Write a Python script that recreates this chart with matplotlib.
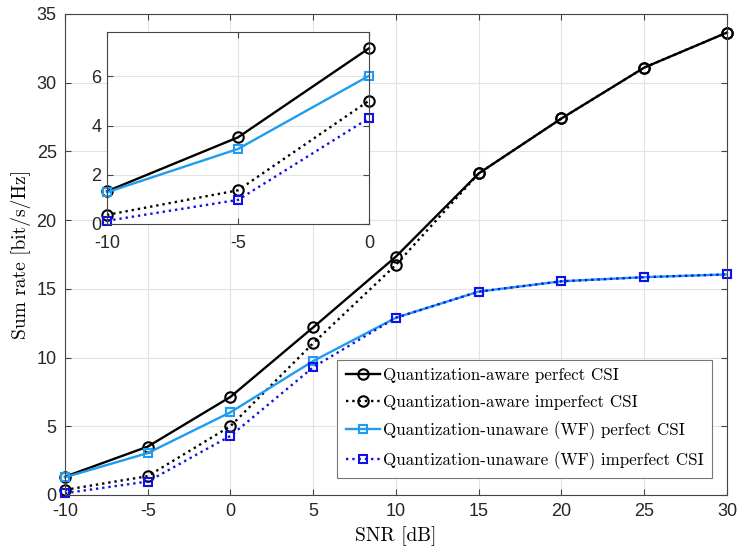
import matplotlib.pyplot as plt
import numpy as np

plt.rcParams['axes.unicode_minus'] = False

snr = [-10, -5, 0, 5, 10, 15, 20, 25, 30]
aware_perfect = [1.33, 3.52, 7.14, 12.2, 17.35, 23.4, 27.4, 31.1, 33.65]
aware_imperfect = [0.37, 1.37, 5.01, 11.05, 16.75, 23.4, 27.4, 31.1, 33.65]
wf_perfect = [1.29, 3.05, 6.02, 9.75, 12.9, 14.8, 15.55, 15.85, 16.05]
wf_imperfect = [0.13, 0.98, 4.3, 9.3, 12.9, 14.8, 15.55, 15.85, 16.05]

labels = ['Quantization-aware perfect CSI',
          'Quantization-aware imperfect CSI',
          'Quantization-unaware (WF) perfect CSI',
          'Quantization-unaware (WF) imperfect CSI']

light_blue = '#1f9cf0'
dark_blue = '#1010e8'
styles = [dict(color='k', ls='-', marker='o', ms=7.5),
          dict(color='k', ls=':', marker='o', ms=7.5),
          dict(color=light_blue, ls='-', marker='s', ms=6),
          dict(color=dark_blue, ls=':', marker='s', ms=6)]
series = [aware_perfect, aware_imperfect, wf_perfect, wf_imperfect]

tick_font = 'Liberation Sans'
tex_font = 'cmr10'

def style_axes(ax, size):
    ax.grid(True, color='#e3e3e3', lw=0.8)
    ax.set_axisbelow(True)
    ax.tick_params(direction='in', top=True, right=True, length=4,
                   color='#444444', labelsize=size, pad=6)
    for s in ax.spines.values():
        s.set_color('#444444')
        s.set_linewidth(0.8)
    for t in ax.get_xticklabels() + ax.get_yticklabels():
        t.set_fontfamily(tick_font)
        t.set_color('#262626')

fig = plt.figure(figsize=(7.37, 5.49), dpi=100)
ax = fig.add_axes([0.0882, 0.0984, 0.8982, 0.8761])

for y, st, lab in zip(series, styles, labels):
    ax.plot(snr, y, lw=1.7, mfc='none', mew=1.5, label=lab,
            clip_on=False, **st)

ax.set_xlim(-10, 30)
ax.set_ylim(0, 35)
ax.set_xticks(np.arange(-10, 31, 5))
ax.set_yticks(np.arange(0, 36, 5))
style_axes(ax, 13)
ax.set_xlabel('SNR [dB]', fontfamily=tex_font, fontsize=14, labelpad=4)
ax.set_ylabel('Sum rate [bit/s/Hz]', fontfamily=tex_font, fontsize=14, labelpad=4)

leg = ax.legend(loc='lower right', bbox_to_anchor=(0.978, 0.035),
                prop={'family': tex_font, 'size': 12.2}, fancybox=False,
                framealpha=1, edgecolor='#777777', handlelength=2.0,
                handletextpad=0.2, borderpad=0.5, labelspacing=0.66,
                borderaxespad=0)
leg.get_frame().set_linewidth(0.8)

# zoomed view of the low-SNR region
ins = fig.add_axes([0.1452, 0.592, 0.3555, 0.3497])
for y, st in zip(series, styles):
    ins.plot(snr[:3], y[:3], lw=1.7, mfc='none', mew=1.5,
             clip_on=False, **st)
ins.set_xlim(-10, 0)
ins.set_ylim(0, 7.8)
ins.set_xticks([-10, -5, 0])
ins.set_yticks([0, 2, 4, 6])
style_axes(ins, 13)
ins.tick_params(axis='y', pad=4)
ins.tick_params(axis='x', pad=8)

fig.savefig('out.png', dpi=100)
